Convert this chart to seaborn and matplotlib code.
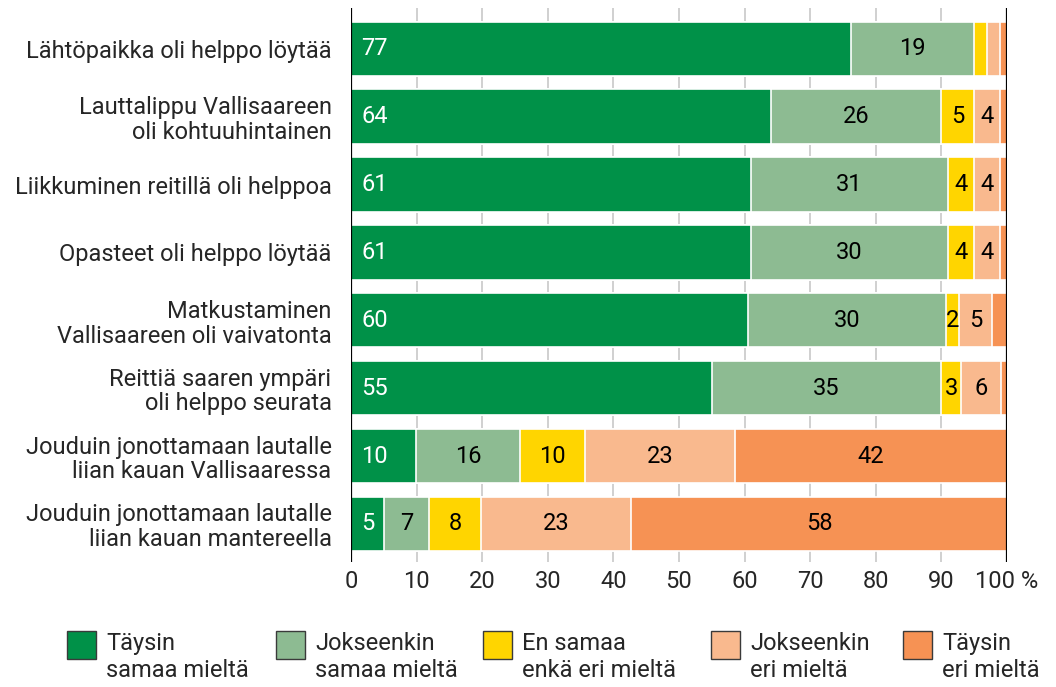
import numpy as np
import pandas as pd
import matplotlib
matplotlib.use("Agg")
import matplotlib.pyplot as plt
from matplotlib.patches import Rectangle
import seaborn as sns

categories = [
    "Lähtöpaikka oli helppo löytää",
    "Lauttalippu Vallisaareen\noli kohtuuhintainen",
    "Liikkuminen reitillä oli helppoa",
    "Opasteet oli helppo löytää",
    "Matkustaminen\nVallisaareen oli vaivatonta",
    "Reittiä saaren ympäri\noli helppo seurata",
    "Jouduin jonottamaan lautalle\nliian kauan Vallisaaressa",
    "Jouduin jonottamaan lautalle\nliian kauan mantereella",
]
answers = [
    "Täysin\nsamaa mieltä",
    "Jokseenkin\nsamaa mieltä",
    "En samaa\nenkä eri mieltä",
    "Jokseenkin\neri mieltä",
    "Täysin\neri mieltä",
]
colors = ["#009148", "#8dbb92", "#ffd500", "#f9b98e", "#f69254"]

# shares per answer (one list per answer, in category order)
taysin_samaa = [76.2, 64.0, 61.0, 61.0, 60.5, 55.0, 9.9, 5.0]
jokseenkin_samaa = [18.8, 25.9, 30.0, 30.0, 30.2, 35.0, 15.9, 6.9]
en_samaa_en_eri = [2.0, 5.1, 4.0, 4.0, 2.0, 3.0, 9.9, 7.9]
jokseenkin_eri = [2.0, 3.9, 4.0, 4.0, 5.0, 6.1, 22.8, 22.9]
taysin_eri = [1.0, 1.1, 1.0, 1.0, 2.3, 0.9, 41.5, 57.3]

# printed labels per answer ("" = not shown)
lab_taysin_samaa = ["77", "64", "61", "61", "60", "55", "10", "5"]
lab_jokseenkin_samaa = ["19", "26", "31", "30", "30", "35", "16", "7"]
lab_en_samaa_en_eri = ["", "5", "4", "4", "2", "3", "10", "8"]
lab_jokseenkin_eri = ["", "4", "4", "4", "5", "6", "23", "23"]
lab_taysin_eri = ["", "", "", "", "", "", "42", "58"]

xticks = [0, 10, 20, 30, 40, 50, 60, 70, 80, 90, 100]
xticklabels = ["0", "10", "20", "30", "40", "50", "60", "70", "80", "90", "100 %"]

sns.set_style("white")
plt.rcParams["font.family"] = ["Roboto", "DejaVu Sans"]
FS = 17

values = np.array([taysin_samaa, jokseenkin_samaa, en_samaa_en_eri,
                   jokseenkin_eri, taysin_eri])
labels = [lab_taysin_samaa, lab_jokseenkin_samaa, lab_en_samaa_en_eri,
          lab_jokseenkin_eri, lab_taysin_eri]
cum = values.cumsum(axis=0)
cum = cum / cum[-1] * 100  # stack ends at 100

df = pd.DataFrame({"kysymys": categories})
for i in range(len(answers)):
    df[f"c{i}"] = cum[i]

fig = plt.figure(figsize=(10.56, 6.87), dpi=100)
ax = fig.add_axes([351 / 1056, 1 - 562 / 687, 656 / 1056, 554 / 687])

# draw from the full stack down so each shorter bar covers the previous
for i in reversed(range(len(answers))):
    sns.barplot(data=df, x=f"c{i}", y="kysymys", orient="h", color=colors[i],
                width=0.8, edgecolor="white", linewidth=1.2, saturation=1,
                ax=ax, zorder=2)

for i in range(len(answers)):
    start = cum[i - 1] if i > 0 else np.zeros(len(categories))
    for r in range(len(categories)):
        txt = labels[i][r]
        if not txt:
            continue
        if i == 0:
            ax.text(1.6, r, txt, ha="left", va="center", color="white",
                    fontsize=FS, zorder=4)
        else:
            ax.text((start[r] + cum[i][r]) / 2, r, txt, ha="center",
                    va="center", color="black", fontsize=FS, zorder=4)

ax.set_xlim(0, 100)
ax.set_ylim(len(categories) - 0.44, -0.6)
for x in xticks[1:-1]:
    ax.axvline(x, color="#c8c8c8", linewidth=1.2, zorder=1)
ax.axvline(0, color="black", linewidth=1.6, zorder=3)
ax.axvline(100, color="black", linewidth=1.6, zorder=3)
for s in ax.spines.values():
    s.set_visible(False)

ax.set_xticks(xticks)
ax.set_xticklabels(xticklabels, fontsize=FS)
ax.tick_params(axis="x", length=0, pad=6)
ax.tick_params(axis="y", length=0, pad=14)
ax.set_yticks(range(len(categories)))
ax.set_yticklabels(categories, fontsize=FS, linespacing=1.1)
ax.set_xlabel("")
ax.set_ylabel("")

# legend
leg_x = [67, 276, 483, 711, 903]
for i, lab in enumerate(answers):
    fig.add_artist(Rectangle((leg_x[i] / 1056, 1 - 659 / 687), 29 / 1056, 28 / 687,
                             facecolor=colors[i], edgecolor="#3a3a3a",
                             linewidth=1, transform=fig.transFigure))
    fig.text((leg_x[i] + 39) / 1056, 1 - 632 / 687, lab, ha="left", va="top",
             fontsize=FS, linespacing=1.22)

fig.savefig("out.png", dpi=100)
